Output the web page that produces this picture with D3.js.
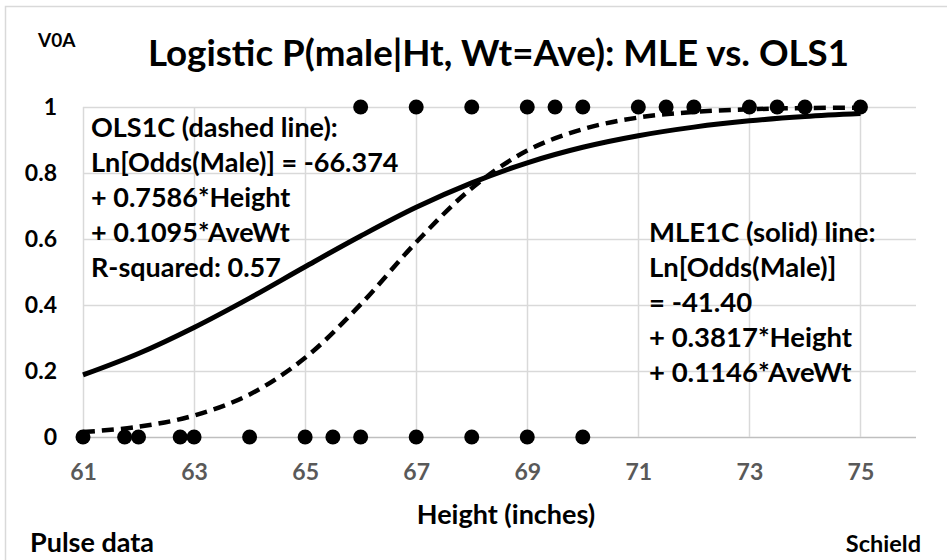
<!DOCTYPE html>
<html>
<head>
<meta charset="utf-8">
<script src="https://cdn.jsdelivr.net/npm/d3@7"></script>
<style>
  body { margin: 0; background: #fff; }
  text { font-family: Lato, "Open Sans", sans-serif; font-weight: bold; }
</style>
</head>
<body>
<div id="chart"></div>
<script>
// curve values at each whole inch
var heights = [61, 62, 63, 64, 65, 66, 67, 68, 69, 70, 71, 72, 73, 74, 75];
var mleProb = [0.188, 0.253, 0.332, 0.421, 0.516, 0.609, 0.696, 0.770, 0.831, 0.878, 0.913, 0.939, 0.958, 0.971, 0.980];
var olsProb = [0.015, 0.031, 0.065, 0.129, 0.240, 0.402, 0.590, 0.754, 0.868, 0.933, 0.968, 0.985, 0.993, 0.997, 0.998];

// observed heights (male = 1, female = 0)
var femaleHeights = [61, 61.75, 62, 62.75, 63, 64, 65, 65.5, 66, 67, 68, 69, 70];
var maleHeights = [66, 67, 68, 69, 69.5, 70, 71, 71.5, 72, 73, 73.5, 74, 75];

var xTicks = [61, 63, 65, 67, 69, 71, 73, 75];
var yTicks = [0, 0.2, 0.4, 0.6, 0.8, 1];
var yTickLabels = ["0", "0.2", "0.4", "0.6", "0.8", "1"];

var olsText = ["OLS1C (dashed line):", "Ln[Odds(Male)] = -66.374", "+ 0.7586*Height", "+ 0.1095*AveWt", "R-squared: 0.57"];
var mleText = ["MLE1C (solid) line:", "Ln[Odds(Male)]", "= -41.40", "+ 0.3817*Height", "+ 0.1146*AveWt"];

var svg = d3.select("#chart").append("svg")
  .attr("width", 947)
  .attr("height", 560);

// outer chart border (runs off the right and bottom edges)
svg.append("rect")
  .attr("x", 5.5).attr("y", 6.5)
  .attr("width", 1000).attr("height", 1000)
  .attr("fill", "none")
  .attr("stroke", "#d9d9d9")
  .attr("stroke-width", 1.5);

var x = d3.scaleLinear().domain([61, 76]).range([83, 916]);
var y = d3.scaleLinear().domain([0, 1]).range([437, 107]);

// gridlines
svg.append("g").selectAll("line.h")
  .data(yTicks)
  .join("line")
  .attr("x1", x(61)).attr("x2", x(76))
  .attr("y1", d => Math.round(y(d)) + 0.5).attr("y2", d => Math.round(y(d)) + 0.5)
  .attr("stroke", d => d === 0 ? "#bfbfbf" : "#d9d9d9")
  .attr("stroke-width", 1.5);

svg.append("g").selectAll("line.v")
  .data(xTicks)
  .join("line")
  .attr("x1", d => Math.round(x(d)) + 0.5).attr("x2", d => Math.round(x(d)) + 0.5)
  .attr("y1", y(1)).attr("y2", y(0))
  .attr("stroke", "#d9d9d9")
  .attr("stroke-width", 1.5);

// axes (labels only)
var xAxis = d3.axisBottom(x).tickValues(xTicks).tickSize(0).tickPadding(27);
var gx = svg.append("g").attr("transform", "translate(0," + y(0) + ")").call(xAxis);
gx.select(".domain").remove();
gx.selectAll("text").attr("font-size", 23).attr("fill", "#595959")
  .attr("font-family", "Lato, 'Open Sans', sans-serif");

var yAxis = d3.axisLeft(y).tickValues(yTicks).tickSize(0).tickPadding(26)
  .tickFormat((d, i) => yTickLabels[i]);
var gy = svg.append("g").attr("transform", "translate(" + x(61) + ",0)").call(yAxis);
gy.select(".domain").remove();
gy.selectAll("text").attr("font-size", 23).attr("fill", "#000")
  .attr("font-family", "Lato, 'Open Sans', sans-serif");

// points
svg.append("g").selectAll("circle.f")
  .data(femaleHeights)
  .join("circle")
  .attr("cx", d => x(d)).attr("cy", y(0)).attr("r", 7.5)
  .attr("fill", "#000");

svg.append("g").selectAll("circle.m")
  .data(maleHeights)
  .join("circle")
  .attr("cx", d => x(d)).attr("cy", y(1)).attr("r", 7.5)
  .attr("fill", "#000");

// fitted curves
var line = d3.line()
  .x(d => x(d[0]))
  .y(d => y(d[1]))
  .curve(d3.curveCatmullRom);

svg.append("path")
  .datum(heights.map((h, i) => [h, mleProb[i]]))
  .attr("fill", "none")
  .attr("stroke", "#000")
  .attr("stroke-width", 5)
  .attr("d", line);

svg.append("path")
  .datum(heights.map((h, i) => [h, olsProb[i]]))
  .attr("fill", "none")
  .attr("stroke", "#000")
  .attr("stroke-width", 4.5)
  .attr("stroke-dasharray", "12,7")
  .attr("d", line);

// titles
svg.append("text")
  .attr("x", 148).attr("y", 66)
  .attr("font-size", 36.7)
  .text("Logistic P(male|Ht, Wt=Ave): MLE vs. OLS1");

svg.append("text")
  .attr("x", 38).attr("y", 47)
  .attr("font-size", 19)
  .text("V0A");

svg.append("text")
  .attr("x", 506).attr("y", 524)
  .attr("text-anchor", "middle")
  .attr("font-size", 27)
  .text("Height (inches)");

svg.append("text")
  .attr("x", 30).attr("y", 552)
  .attr("font-size", 27)
  .text("Pulse data");

svg.append("text")
  .attr("x", 921).attr("y", 552)
  .attr("text-anchor", "end")
  .attr("font-size", 23.5)
  .text("Schield");

// equation boxes
svg.append("g").selectAll("text")
  .data(olsText)
  .join("text")
  .attr("x", 91).attr("y", (d, i) => 137 + i * 35)
  .attr("font-size", 27)
  .text(d => d);

svg.append("g").selectAll("text")
  .data(mleText)
  .join("text")
  .attr("x", 649).attr("y", (d, i) => 242 + i * 35)
  .attr("font-size", 27.5)
  .text(d => d);
</script>
</body>
</html>
